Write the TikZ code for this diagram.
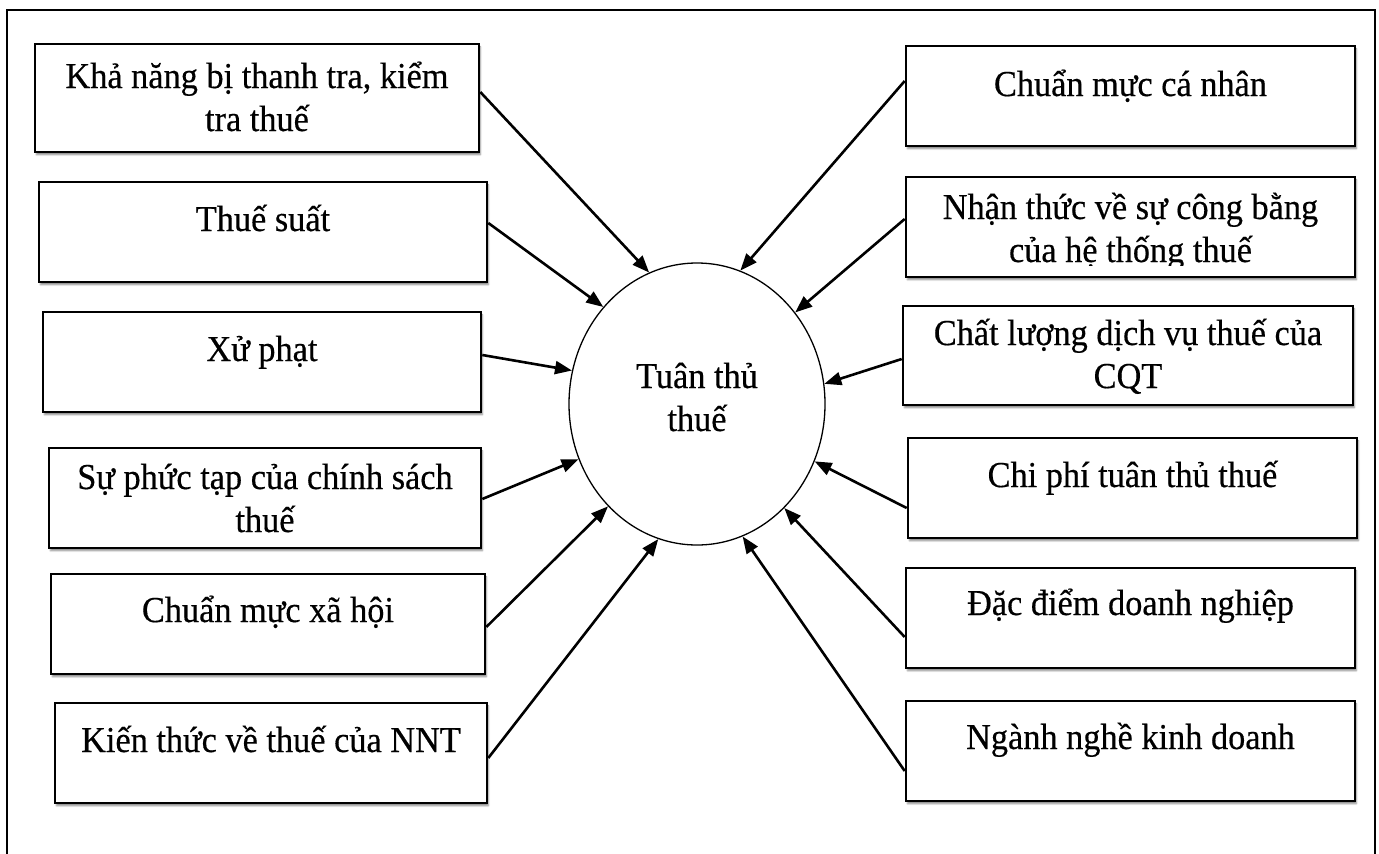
\documentclass[tikz,border=0pt]{standalone}
\usepackage{fontspec}
\setmainfont{Liberation Serif}[FakeStretch=0.94,FakeBold=0.4]
\usetikzlibrary{arrows.meta,shapes.geometric,shadows.blur}

\begin{document}
\begin{tikzpicture}[x=1pt,y=-1pt,
  box/.style={draw, line width=2.6pt, fill=white, rectangle, inner sep=0pt,
    minimum height=100pt,
    blur shadow={shadow xshift=1.4pt, shadow yshift=-2.8pt,
      shadow opacity=45, shadow blur radius=1.6pt}},
  lbl/.style={anchor=base, align=center, inner sep=0pt,
    font=\fontsize{36.5}{43}\selectfont},
  arr/.style={line width=2.6pt, -{Triangle[length=17pt,width=13pt]}},
  hub/.style={draw, ellipse, line width=1.3pt, inner sep=0pt,
    minimum width=256pt, minimum height=282pt}
]
\useasboundingbox (0,0) rectangle (1379,854);

% outer frame (open at the bottom)
\draw[line width=2.8pt] (7,860) -- (7,10) -- (1375,10) -- (1375,860);

% central factor
\node[hub] (C) at (697,404) {};
\node[lbl] (tC) at (697,431) {Tuân thủ\\thuế};

% left-hand factors (anchor base = baseline of the last line)
\node[box, minimum width=444pt, minimum height=108pt] (L1) at (257,98) {};
\node[lbl] (tL1) at (257,131) {Khả năng bị thanh tra, kiểm\\tra thuế};

\node[box, minimum width=448pt] (L2) at (263,232) {};
\node[lbl] (tL2) at (263,231) {Thuế suất};

\node[box, minimum width=438pt] (L3) at (262,362) {};
\node[lbl] (tL3) at (262,361) {Xử phạt};

\node[box, minimum width=432pt] (L4) at (265,498) {};
\node[lbl] (tL4) at (265,532) {Sự phức tạp của chính sách\\thuế};

\node[box, minimum width=434pt] (L5) at (268,624) {};
\node[lbl] (tL5) at (268,622) {Chuẩn mực xã hội};

\node[box, minimum width=432pt] (L6) at (271,753) {};
\node[lbl] (tL6) at (271,752) {Kiến thức về thuế của NNT};

% right-hand factors
\node[box, minimum width=449pt] (R1) at (1130.5,96) {};
\node[lbl] (tR1) at (1130.5,96) {Chuẩn mực cá nhân};

\node[box, minimum width=449pt] (R2) at (1130.5,227) {};
\begin{scope}
  % the text frame cuts off the overflowing second line
  \clip ([xshift=2pt,yshift=13pt]R2.south west) rectangle ([xshift=-2pt,yshift=-2pt]R2.north east);
  \node[lbl] (tR2) at (1130.5,262) {Nhận thức về sự công bằng\\của hệ thống thuế};
\end{scope}

\node[box, minimum width=450pt, minimum height=99pt] (R3) at (1128,355.5) {};
\node[lbl] (tR3) at (1128,388) {Chất lượng dịch vụ thuế của\\CQT};

\node[box, minimum width=449pt] (R4) at (1132.5,488) {};
\node[lbl] (tR4) at (1132.5,487) {Chi phí tuân thủ thuế};

\node[box, minimum width=449pt] (R5) at (1130.5,618) {};
\node[lbl] (tR5) at (1130.5,615) {Đặc điểm doanh nghiệp};

\node[box, minimum width=449pt] (R6) at (1130.5,751) {};
\node[lbl] (tR6) at (1130.5,749) {Ngành nghề kinh doanh};

% influences
\draw[arr] ([yshift=6pt]L1.east)  -- (C.110.5);
\draw[arr] ([yshift=9pt]L2.east)  -- (C.134);
\draw[arr] ([yshift=7pt]L3.east)  -- (C.165.5);
\draw[arr] ([yshift=-1pt]L4.east) -- (C.205.8);
\draw[arr] ([yshift=-3pt]L5.east) -- (C.229.9);
\draw[arr] ([yshift=-5pt]L6.east) -- (C.254.3);

\draw[arr] ([yshift=15pt]R1.west)   -- (C.72.7);
\draw[arr] ([yshift=8pt]R2.west)    -- (C.43.5);
\draw[arr] ([yshift=-3.5pt]R3.west) -- (C.9.3);
\draw[arr] ([yshift=-20pt]R4.west)  -- (C.-26.2);
\draw[arr] ([yshift=-19pt]R5.west)  -- (C.-50.4);
\draw[arr] ([yshift=-20pt]R6.west)  -- (C.-71.2);
\end{tikzpicture}
\end{document}
